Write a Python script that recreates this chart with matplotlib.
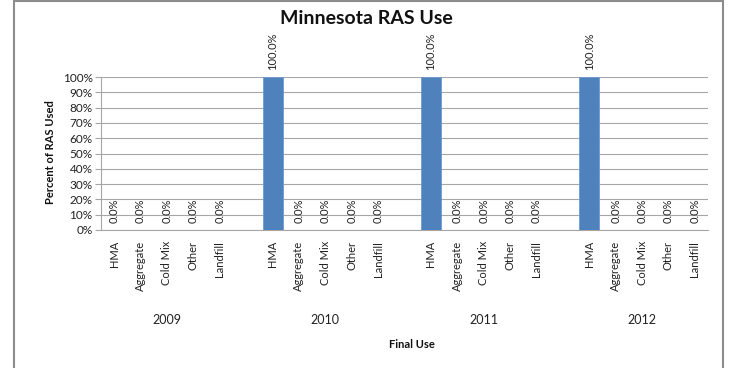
import matplotlib
matplotlib.use("Agg")
import matplotlib.pyplot as plt
from matplotlib.patches import Rectangle
from matplotlib.transforms import blended_transform_factory

plt.rcParams['font.family'] = ['Lato', 'DejaVu Sans']

years = ["2009", "2010", "2011", "2012"]
uses = ["HMA", "Aggregate", "Cold Mix", "Other", "Landfill"]
pct_2009 = [0.0, 0.0, 0.0, 0.0, 0.0]
pct_2010 = [100.0, 0.0, 0.0, 0.0, 0.0]
pct_2011 = [100.0, 0.0, 0.0, 0.0, 0.0]
pct_2012 = [100.0, 0.0, 0.0, 0.0, 0.0]
all_pct = [pct_2009, pct_2010, pct_2011, pct_2012]

W, H = 730, 368
fig = plt.figure(figsize=(W / 100, H / 100), dpi=100)

# plot area in pixels
left, right, top, bottom = 101, 708, 77, 230
ax = fig.add_axes([left / W, 1 - bottom / H, (right - left) / W, (bottom - top) / H])

bar_color = "#4F81BD"
grid_color = "#A6A6A6"

# one empty slot between year groups
positions = []
labels = []
values = []
for g, yr in enumerate(years):
    for i, u in enumerate(uses):
        positions.append(g * 6 + i)
        labels.append(u)
        values.append(all_pct[g][i])

ax.bar(positions, values, width=0.76, color=bar_color, edgecolor="#6E9BD0", linewidth=0.6, zorder=3)

for x, v in zip(positions, values):
    ax.annotate(f"{v:.1f}%", (x, v), xytext=(0, 5), textcoords="offset points",
                rotation=90, ha="center", va="bottom", fontsize=8, color="#222222")

ax.set_xlim(-0.5, 22.5)
ax.set_ylim(0, 100)
ax.set_yticks(range(0, 101, 10))
ax.set_yticklabels([f"{t}%" for t in range(0, 101, 10)], fontsize=8.5, color="#222222")
ax.yaxis.grid(True, color=grid_color, linewidth=0.8, zorder=0)
ax.set_xticks(positions)
ax.set_xticklabels(labels, rotation=90, fontsize=8, color="#222222", va="top")
ax.tick_params(axis="x", length=0, pad=8)
ax.tick_params(axis="y", length=4, color=grid_color, pad=2)

for s in ["top", "right"]:
    ax.spines[s].set_visible(False)
for s in ["left", "bottom"]:
    ax.spines[s].set_color(grid_color)
    ax.spines[s].set_linewidth(0.8)

trans = blended_transform_factory(ax.transData, fig.transFigure)
for g, yr in enumerate(years):
    ax.text(g * 6 + 2, 1 - 320 / H, yr, transform=trans, ha="center", va="center",
            fontsize=9, color="#222222")

fig.text(412 / W, 1 - 345 / H, "Final Use", ha="center", va="center",
         fontsize=8, fontweight="bold", color="#111111")
fig.text(50 / W, 1 - 152 / H, "Percent of RAS Used", rotation=90, ha="center", va="center",
         fontsize=8, fontweight="bold", color="#111111")
fig.text(366 / W, 1 - 18 / H, "Minnesota RAS Use", ha="center", va="center",
         fontsize=14, fontweight="bold", color="#111111")

# chart border
fig.patches.append(Rectangle((13.5 / W, -0.05), (723 - 13.5) / W, 1.05 - 1 / H,
                             transform=fig.transFigure, fill=False,
                             edgecolor="#8C8C8C", linewidth=1.5))

fig.savefig("out.png", dpi=100)
